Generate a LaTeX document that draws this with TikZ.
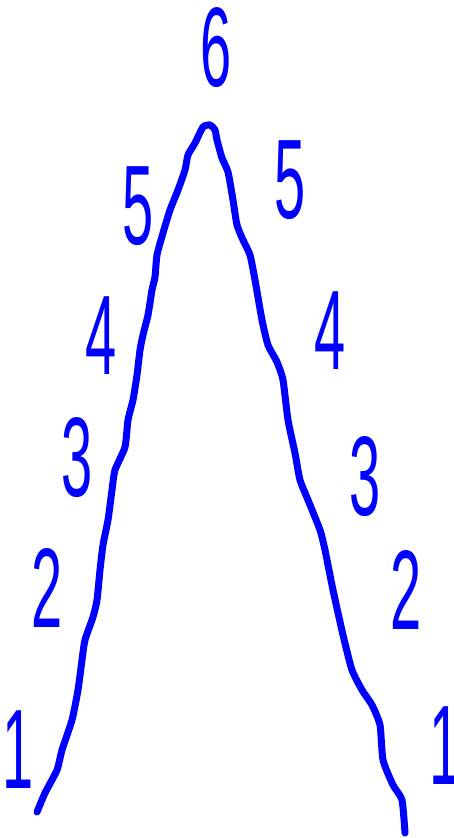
\documentclass[tikz,border=0pt]{standalone}
\usepackage{fontspec}
\setmainfont{Liberation Sans}
\usepackage{graphicx}
\definecolor{pen}{RGB}{0,0,255}
\begin{document}
\begin{tikzpicture}[x=1pt,y=-1pt,
  num/.style={inner sep=0pt,text=pen,font=\fontsize{56}{56}\selectfont},
  stroke/.style={draw=pen,line width=7pt,line cap=round,line join=round}]
\useasboundingbox (0,0) rectangle (453,838);
\newcommand{\dg}[1]{\scalebox{1}[2.02]{#1}}
\newcommand{\one}{\dg{\kern-0.11em 1\kern-0.18em}}
% numbers
\node[num] (n6)  at (216,48)  {\dg{6}};
\node[num] (l5)  at (138,206) {\dg{5}};
\node[num] (r5)  at (290,180) {\dg{5}};
\node[num] (l4)  at (101,336) {\dg{4}};
\node[num] (r4)  at (330,331) {\dg{4}};
\node[num] (l3)  at (77,458)  {\dg{3}};
\node[num] (r3)  at (365,477) {\dg{3}};
\node[num] (l2)  at (47,588)  {\dg{2}};
\node[num] (r2)  at (406,590) {\dg{2}};
\node[num] (l1)  at (16,750)  {\one};
\node[num] (r1)  at (443,746) {\one};
% hand-drawn peak
\draw[stroke] plot[smooth,tension=0.35] coordinates {
 (37,812) (45,793) (57,770) (62,750) (72,720) (78,690) (82,660) (85,640)
 (93,617) (97,600) (100,570) (103,545) (108,520) (112,490) (115,470)
 (125,447) (128,420) (133,400) (137,375) (140,350) (143,335) (148,315)
 (152,290) (155,277) (157,255) (163,233) (170,210) (178,190) (185,170)
 (188,155) (195,143) (203,127) (210,125) (215,130) (217,140) (222,158)
 (228,172) (233,200) (237,225) (243,240) (250,255) (255,280) (262,320)
 (268,345) (277,362) (283,380) (288,420) (295,453) (300,480)
 (308,500) (320,530) (325,550) (333,590) (343,635) (352,670) (362,690)
 (372,705) (380,725) (383,760) (393,785) (402,800) (405,833)};
\end{tikzpicture}
\end{document}
